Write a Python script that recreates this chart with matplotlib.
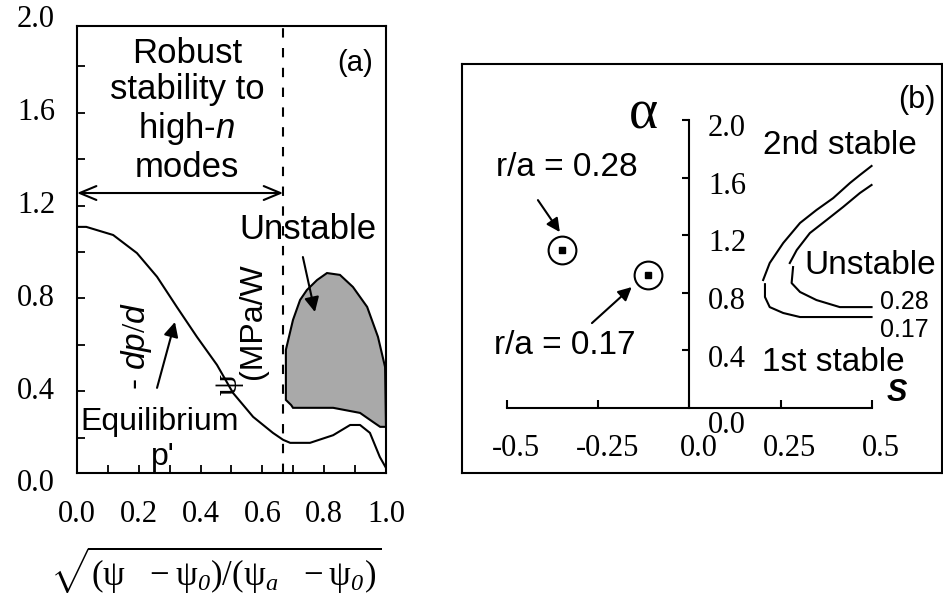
import matplotlib
matplotlib.use("Agg")
import matplotlib.pyplot as plt
import numpy as np

plt.rcParams['font.family'] = ['Liberation Sans', 'DejaVu Sans']
plt.rcParams['mathtext.fontset'] = 'custom'
plt.rcParams['mathtext.rm'] = 'Liberation Serif'
plt.rcParams['mathtext.cal'] = 'Liberation Serif:italic'
plt.rcParams['mathtext.it'] = 'Liberation Sans:italic'
plt.rcParams['mathtext.sf'] = 'Liberation Sans'

# ========== DATA: panel (a) ==========
# equilibrium -dp/dpsi profile vs sqrt(normalised flux)
eq_s = [0.0, 0.03, 0.117, 0.194, 0.259, 0.323, 0.388, 0.453, 0.505, 0.57,
        0.634, 0.667, 0.69, 0.754, 0.829, 0.884, 0.916, 0.948, 0.98, 1.0]
eq_v = [1.108, 1.108, 1.073, 0.995, 0.893, 0.763, 0.634, 0.513, 0.392, 0.289,
        0.22, 0.19, 0.177, 0.177, 0.21, 0.254, 0.254, 0.22, 0.116, 0.069]

# high-n unstable region (closed outline)
unst_s = [0.676, 0.676, 0.699, 0.722, 0.744, 0.777, 0.809, 0.851, 0.893, 0.939,
          0.974, 0.997, 1.0, 0.981, 0.958, 0.916, 0.829, 0.699, 0.693, 0.676]
unst_v = [0.362, 0.578, 0.707, 0.793, 0.836, 0.879, 0.909, 0.901, 0.849, 0.763,
          0.634, 0.504, 0.246, 0.246, 0.267, 0.306, 0.328, 0.328, 0.34, 0.362]

robust_edge = 0.667
a_xticks = [0.0, 0.2, 0.4, 0.6, 0.8, 1.0]
a_yticks = [0.0, 0.4, 0.8, 1.2, 1.6, 2.0]

# ========== DATA: panel (b) ==========
# marginal stability boundaries (upper / lower branches), r/a = 0.17 and 0.28
c17_up_s = [0.499, 0.467, 0.44, 0.394, 0.348, 0.303, 0.257, 0.22, 0.202]
c17_up_a = [1.681, 1.618, 1.563, 1.458, 1.375, 1.285, 1.146, 1.007, 0.889]
c17_lo_s = [0.207, 0.207, 0.22, 0.257, 0.303, 0.499]
c17_lo_a = [0.86, 0.771, 0.701, 0.66, 0.632, 0.632]
c28_up_s = [0.499, 0.467, 0.421, 0.376, 0.33, 0.294, 0.275]
c28_up_a = [1.549, 1.493, 1.396, 1.306, 1.215, 1.097, 1.007]
c28_lo_s = [0.284, 0.28, 0.303, 0.348, 0.412, 0.499]
c28_lo_a = [0.979, 0.868, 0.806, 0.75, 0.701, 0.701]

# operating points
pt_s = [-0.349, -0.114]
pt_a = [1.097, 0.924]
pt_names = ['r/a = 0.28', 'r/a = 0.17']

b_xticks = [-0.5, -0.25, 0.0, 0.25, 0.5]
b_xlabels = ['-0.5', '-0.25', '0.0', '0.25', '0.5']
b_yticks = [0.0, 0.4, 0.8, 1.2, 1.6, 2.0]

W, H = 943, 603


def px_rect(x0, y0, x1, y1):
    return [x0 / W, 1 - y1 / H, (x1 - x0) / W, (y1 - y0) / H]


fig = plt.figure(figsize=(W / 100, H / 100), dpi=100)
serif = ['Liberation Serif', 'DejaVu Serif']

# ========== PANEL (a) ==========
axa = fig.add_axes(px_rect(77, 26, 386, 473))
axa.set_xlim(0, 1)
axa.set_ylim(0.047, 1.974)
axa.set_xticks(np.arange(0.1, 0.95, 0.1))
axa.set_yticks(np.arange(0.2, 1.9, 0.2))
axa.tick_params(direction='in', length=6, width=1.3, labelbottom=False, labelleft=False)
for sp in axa.spines.values():
    sp.set_linewidth(1.5)

axa.fill(unst_s, unst_v, facecolor='#a9a9a9', edgecolor='black', lw=1.5)
axa.plot(eq_s, eq_v, color='black', lw=1.5)
axa.axvline(robust_edge, color='black', lw=1.5, ls=(0, (4.5, 5)))
axa.annotate('', xy=(0, 1.254), xytext=(robust_edge, 1.254),
             arrowprops=dict(arrowstyle='<->,head_length=0.6,head_width=0.25',
                             lw=1.5, color='black', mutation_scale=20, shrinkA=0, shrinkB=0))

axa.text(0.356, 1.61, 'Robust\nstability to\nhigh-$\\mathit{n}$\nmodes',
         ha='center', va='center', fontsize=25, linespacing=1.14)
axa.text(0.9, 1.815, '(a)', ha='center', va='center', fontsize=21)
axa.text(0.748, 1.095, 'Unstable', ha='center', va='center', fontsize=25)
axa.annotate('', xy=(0.770, 0.741), xytext=(0.731, 0.978),
             arrowprops=dict(arrowstyle='-|>', lw=1.5, color='black', mutation_scale=22,
                             shrinkA=0, shrinkB=0))
axa.text(0.269, 0.267, 'Equilibrium', ha='center', va='center', fontsize=23)
axa.text(0.278, 0.116, "p'", ha='center', va='center', fontsize=23)
axa.annotate('', xy=(0.317, 0.698), xytext=(0.259, 0.414),
             arrowprops=dict(arrowstyle='-|>', lw=1.5, color='black', mutation_scale=22,
                             shrinkA=0, shrinkB=0))

# scattered pieces of the y label
axa.text(0.194, 0.595, '- $\\mathit{dp/d}$', rotation=90, ha='center', va='center', fontsize=24)
axa.text(0.489, 0.427, 'ψ', rotation=90, ha='center', va='center', fontsize=24, family=serif)
axa.text(0.57, 0.703, '(MPa/W', rotation=90, ha='center', va='center', fontsize=23)

for v in a_yticks:
    axa.text(-0.071, v, f'{v:.1f}', ha='right', va='center', fontsize=22,
             family=serif, clip_on=False)
for s in a_xticks:
    axa.text(s, -0.134, f'{s:.1f}', ha='center', va='center', fontsize=22,
             family=serif, clip_on=False)
axa.text(0.45, -0.371,
         r'$\sqrt{(\mathrm{ψ}\ \ -\mathrm{ψ}_{\mathcal{0}})/(\mathrm{ψ}_{\mathcal{a}}\ \ -\mathrm{ψ}_{\mathcal{0}})}$',
         ha='center', va='center', fontsize=25, clip_on=False)

# ========== PANEL (b) ==========
frame = fig.add_axes(px_rect(462, 64, 942, 473))
frame.set_xticks([])
frame.set_yticks([])
for sp in frame.spines.values():
    sp.set_linewidth(1.5)

axb = fig.add_axes(px_rect(462, 64, 942, 473))
axb.patch.set_visible(False)
axb.set_xlim(-0.623, 0.692)
axb.set_ylim(-0.451, 2.389)
axb.spines['left'].set_position(('data', 0))
axb.spines['bottom'].set_position(('data', 0))
axb.spines['left'].set_bounds(0, 2.0)
axb.spines['bottom'].set_bounds(-0.5, 0.5)
axb.spines['top'].set_visible(False)
axb.spines['right'].set_visible(False)
for k in ('left', 'bottom'):
    axb.spines[k].set_linewidth(1.5)
axb.set_xticks(b_xticks)
axb.set_yticks(b_yticks[1:])
axb.tick_params(axis='x', direction='in', length=6, width=1.5, labelbottom=False)
axb.tick_params(axis='y', direction='out', length=5, width=1.5, labelleft=False)

for xs, ys in ((c17_up_s, c17_up_a), (c17_lo_s, c17_lo_a),
               (c28_up_s, c28_up_a), (c28_lo_s, c28_lo_a)):
    axb.plot(xs, ys, color='black', lw=1.5)

axb.plot(pt_s, pt_a, 'o', ms=20, mfc='none', mec='black', mew=1.5)
axb.plot(pt_s, pt_a, 's', ms=4.5, color='black')

axb.annotate('', xy=(-0.355, 1.222), xytext=(-0.415, 1.444),
             arrowprops=dict(arrowstyle='-|>', lw=1.5, color='black', mutation_scale=20,
                             shrinkA=0, shrinkB=0))
axb.annotate('', xy=(-0.158, 0.840), xytext=(-0.267, 0.590),
             arrowprops=dict(arrowstyle='-|>', lw=1.5, color='black', mutation_scale=20,
                             shrinkA=0, shrinkB=0))
axb.text(-0.336, 1.667, pt_names[0], ha='center', va='center', fontsize=24)
axb.text(-0.341, 0.4375, pt_names[1], ha='center', va='center', fontsize=24)

axb.text(-0.127, 2.035, 'α', ha='center', va='center', fontsize=40, family=serif)
axb.text(0.568, 0.104, 'S', ha='center', va='center', fontsize=22,
         fontweight='bold', fontstyle='italic')
axb.text(0.623, 2.139, '(b)', ha='center', va='center', fontsize=22)
axb.text(0.412, 1.826, '2nd stable', ha='center', va='center', fontsize=24)
axb.text(0.495, 0.993, 'Unstable', ha='center', va='center', fontsize=24)
axb.text(0.522, 0.736, '0.28', ha='left', va='center', fontsize=18)
axb.text(0.522, 0.542, '0.17', ha='left', va='center', fontsize=18)
axb.text(0.393, 0.319, '1st stable', ha='center', va='center', fontsize=24)

for v in b_yticks:
    off = -0.12 if v == 0 else -0.06
    axb.text(0.103, v + off, f'{v:.1f}', ha='center', va='center', fontsize=22, family=serif)
for s, lab in zip(b_xticks, b_xlabels):
    axb.text(s + 0.025, -0.278, lab, ha='center', va='center', fontsize=22, family=serif)

fig.savefig('out.png', dpi=100)
